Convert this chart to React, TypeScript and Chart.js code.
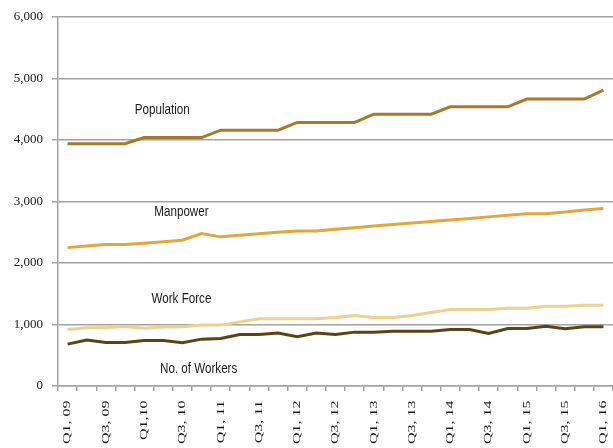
import React, { useEffect, useRef } from "react";
import { Chart, registerables, CategoryScale } from "chart.js";

Chart.register(...registerables);

const quarters: string[] = [
  "Q1, 09", "Q2, 09", "Q3, 09", "Q4, 09",
  "Q1,10", "Q2, 10", "Q3, 10", "Q4, 10",
  "Q1, 11", "Q2, 11", "Q3, 11", "Q4, 11",
  "Q1, 12", "Q2, 12", "Q3, 12", "Q4, 12",
  "Q1, 13", "Q2, 13", "Q3, 13", "Q4, 13",
  "Q1, 14", "Q2, 14", "Q3, 14", "Q4, 14",
  "Q1, 15", "Q2, 15", "Q3, 15", "Q4, 15",
  "Q1, 16",
];

const population: number[] = [
  3940, 3940, 3940, 3940,
  4040, 4040, 4040, 4040,
  4160, 4160, 4160, 4160,
  4285, 4285, 4285, 4285,
  4420, 4420, 4420, 4420,
  4540, 4540, 4540, 4540,
  4665, 4665, 4665, 4665,
  4810,
];

const manpower: number[] = [
  2250, 2275, 2300, 2300, 2320, 2345, 2370, 2480, 2425, 2450,
  2475, 2500, 2520, 2520, 2550, 2575, 2600, 2625, 2650, 2675,
  2700, 2725, 2750, 2775, 2800, 2800, 2830, 2860, 2885,
];

const workForce: number[] = [
  918, 946, 946, 968, 940, 960, 965, 990, 990, 1043,
  1092, 1092, 1092, 1092, 1115, 1146, 1114, 1114, 1146, 1195,
  1243, 1243, 1243, 1265, 1265, 1297, 1297, 1313, 1313,
];

const workers: number[] = [
  681, 746, 708, 708, 740, 740, 703, 762, 773, 838,
  838, 860, 800, 860, 838, 876, 876, 892, 892, 892,
  919, 919, 854, 935, 935, 973, 930, 962, 962,
];

const seriesNames: string[] = ["Population", "Manpower", "Work Force", "No. of Workers"];
const seriesColors: string[] = ["#A67A28", "#E0A73E", "#EDD18E", "#5C4313"];

// inline series captions, anchored in data coordinates (category index, value)
const captionIndex: number[] = [4.95, 5.95, 5.95, 6.85];
const captionValue: number[] = [4490, 2820, 1410, 275];

const yTicks: number[] = [0, 1000, 2000, 3000, 4000, 5000, 6000];

class StretchedCategoryScale extends CategoryScale {
  static id = "stretchedCategory";
  static defaults = (CategoryScale as any).defaults;
  drawLabels(chartArea: any) {
    const ctx = (this as any).ctx as CanvasRenderingContext2D;
    const top = (this as any).top as number;
    ctx.save();
    ctx.translate(0, top);
    ctx.scale(1, 1.45);
    ctx.translate(0, -top);
    // @ts-ignore
    super.drawLabels(chartArea);
    ctx.restore();
  }
}
Chart.register(StretchedCategoryScale as any);

const captionPlugin = {
  id: "captions",
  afterDatasetsDraw(chart: any) {
    const { ctx, scales } = chart;
    seriesNames.forEach((name, i) => {
      const x = scales.x.getPixelForValue(captionIndex[i]);
      const y = scales.y.getPixelForValue(captionValue[i]);
      ctx.save();
      ctx.font = '14px "Liberation Sans", Arial, sans-serif';
      ctx.fillStyle = "#1a1a1a";
      ctx.textAlign = "center";
      ctx.textBaseline = "middle";
      ctx.translate(x, y);
      ctx.scale(0.83, 1);
      ctx.fillText(name, 0, 0);
      ctx.restore();
    });
  },
};

export default function App() {
  const canvasRef = useRef<HTMLCanvasElement | null>(null);

  useEffect(() => {
    if (!canvasRef.current) return;
    const seriesData = [population, manpower, workForce, workers];
    const chart = new Chart(canvasRef.current, {
      type: "line",
      data: {
        labels: quarters,
        datasets: seriesData.map((d, i) => ({
          label: seriesNames[i],
          data: d,
          borderColor: seriesColors[i],
          backgroundColor: seriesColors[i],
          borderWidth: 3,
          pointRadius: 0,
          tension: 0,
          fill: false,
        })),
      },
      options: {
        animation: false,
        responsive: false,
        maintainAspectRatio: false,
        layout: { padding: { top: 17, right: 0, left: 0, bottom: 0 } },
        plugins: {
          legend: { display: false },
          tooltip: { enabled: false },
        },
        scales: {
          x: {
            type: "stretchedCategory" as any,
            offset: true,
            grid: {
              offset: true,
              drawOnChartArea: false,
              drawTicks: true,
              tickLength: 5,
              color: "#a3a3a3",
              lineWidth: 1.5,
            },
            border: { display: true, color: "#a3a3a3", width: 1.5 },
            ticks: {
              autoSkip: false,
              maxRotation: 90,
              minRotation: 90,
              padding: 5,
              color: "#1a1a1a",
              font: { family: '"Liberation Serif", "Times New Roman", serif', size: 11 },
              callback: function (this: any, _v: any, idx: number) {
                return idx % 2 === 0 ? quarters[idx] : "";
              },
            },
            afterFit: (scale: any) => {
              scale.height = 62;
              scale.paddingLeft = 0;
              scale.paddingRight = 0;
            },
          } as any,
          y: {
            min: 0,
            max: 6000,
            afterBuildTicks: (scale: any) => {
              scale.ticks = yTicks.map((v) => ({ value: v }));
            },
            grid: {
              color: "#a3a3a3",
              lineWidth: 1.5,
              tickLength: 6,
            },
            border: { display: true, color: "#a3a3a3", width: 1.5 },
            ticks: {
              padding: 9,
              color: "#1a1a1a",
              font: { family: '"Liberation Serif", "Times New Roman", serif', size: 13 },
              callback: (v: any) => Number(v).toLocaleString("en-US"),
            },
            afterFit: (scale: any) => {
              scale.width = 58;
              scale.paddingTop = 0;
              scale.paddingBottom = 0;
            },
          },
        },
      },
      plugins: [captionPlugin],
    });
    return () => chart.destroy();
  }, []);

  return (
    <div style={{ position: "fixed", left: 0, top: 0, width: 613, height: 448, background: "#fff" }}>
      <canvas ref={canvasRef} width={613} height={448} style={{ width: 613, height: 448, display: "block" }} />
    </div>
  );
}
